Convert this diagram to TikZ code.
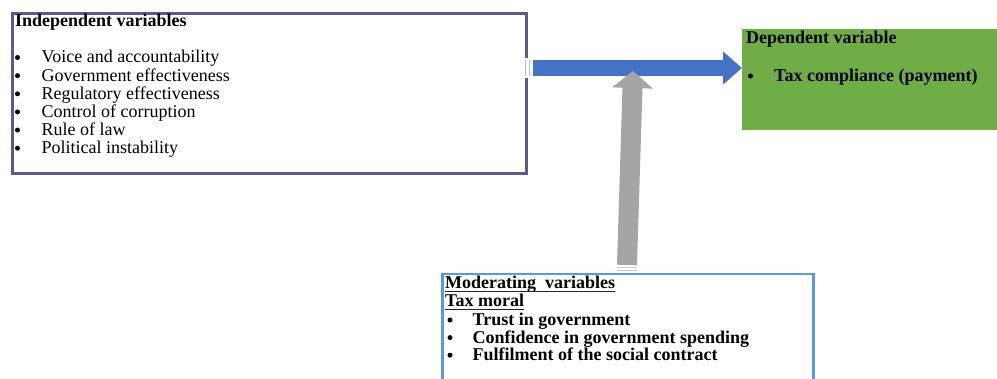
\documentclass[tikz,border=0pt]{standalone}
\usepackage{fontspec}
\setmainfont{Liberation Serif}
\usetikzlibrary{arrows.meta}
\definecolor{indepc}{HTML}{63588E}
\definecolor{depc}{HTML}{70AD47}
\definecolor{modc}{HTML}{5B9BD5}
\definecolor{bluec}{HTML}{4472C4}
\definecolor{grayc}{HTML}{A5A5A5}
\tikzset{
  txt/.style={anchor=base west, inner sep=0pt, font=\fontsize{18}{18}\selectfont},
  btxt/.style={txt, font=\fontsize{18}{18}\selectfont\bfseries},
  dot/.style={circle, fill=black, inner sep=0pt, minimum size=5pt},
  boxnode/.style={anchor=north west, inner sep=0pt, rectangle},
  bluearrow/.style={draw=bluec, line width=16pt, -{Triangle[length=19pt,width=32pt]}, bluec},
  grayarrow/.style={draw=grayc, line width=20pt, -{Triangle[length=17pt,width=40pt]}, grayc},
  stripe/.style={line width=1.2pt},
  uline/.style={line width=1.1pt, draw=black!85}
}
\begin{document}
\begin{tikzpicture}[x=1pt,y=-1pt]
\useasboundingbox (0,0) rectangle (997,379);
% boxes
\node[boxnode, draw=indepc, line width=2.7pt, minimum width=514pt, minimum height=160pt] (indep) at (11,12) {};
\node[boxnode, fill=depc, minimum width=255pt, minimum height=101pt] (dep) at (742,29) {};
\node[boxnode, draw=modc, line width=2.5pt, minimum width=371pt, minimum height=130pt] (mod) at (441,273) {};
% independent text
\node[btxt] (it) at (15,27) {Independent variables};
\foreach \t [count=\i] in {Voice and accountability, Government effectiveness, Regulatory effectiveness, Control of corruption, Rule of law, Political instability}{
  \node[dot] (ib\i) at (17.5,{57.5+18.15*(\i-1)}) {};
  \node[txt] (ii\i) at (41.5,{63+18.15*(\i-1)}) {\t};
}
% dependent text
\node[btxt] (dt) at (746,44) {Dependent variable};
\node[dot] (db) at (750.5,76) {};
\node[btxt] (di) at (774,81.5) {Tax compliance (payment)};
% moderating text
\node[btxt] (mt1) at (445,289) {Moderating\ \ variables};
\node[btxt] (mt2) at (445,306.5) {Tax moral};
\draw[uline] ([yshift=-2.6pt]mt1.base west) -- ([yshift=-2.6pt]mt1.base east);
\draw[uline] ([yshift=-2.6pt]mt2.base west) -- ([yshift=-2.6pt]mt2.base east);
\foreach \t [count=\i] in {Trust in government, Confidence in government spending, Fulfilment of the social contract}{
  \node[dot] (mb\i) at (450,{320+17.6*(\i-1)}) {};
  \node[btxt] (mi\i) at (472.5,{325.5+17.6*(\i-1)}) {\t};
}
% blue striped arrow
\fill[white] (523,58) rectangle (532.5,78);
\coordinate (bs) at (533,68);
\draw[stripe, draw=bluec!45] (525.5,60) -- (525.5,76);
\draw[stripe, draw=bluec!45] (529.5,60) -- (529.5,76);
\draw[bluearrow] (bs) -- (dep.west |- bs);
% gray striped arrow
\coordinate (gs) at (627,265);
\coordinate (gt) at (633,71);
\draw[grayarrow] (gs) -- (gt);
\draw[stripe, draw=grayc!60] (617,267.5) -- (637,267.5);
\draw[stripe, draw=grayc!60] (617,270.5) -- (637,270.5);
\end{tikzpicture}
\end{document}
